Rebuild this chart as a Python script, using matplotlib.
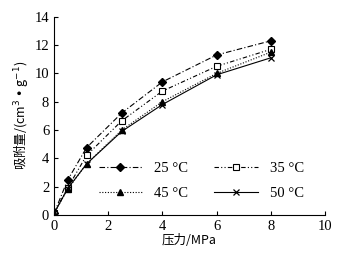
import matplotlib
matplotlib.use("Agg")
import matplotlib.pyplot as plt

# ─────────────────────────────────────────────
# Data
# ─────────────────────────────────────────────

pressure	= [0, 0.5, 1.2, 2.5, 4, 6, 8]
ads_25		= [0.1, 2.45, 4.75, 7.2, 9.4, 11.3, 12.3]
ads_35		= [0.1, 1.9, 4.2, 6.65, 8.75, 10.5, 11.7]
ads_45		= [0.1, 1.8, 3.6, 6.0, 8.0, 10.0, 11.5]
ads_50		= [0.1, 1.85, 3.6, 5.9, 7.8, 9.9, 11.1]
labels		= ["25 °C", "35 °C", "45 °C", "50 °C"]

SERIF	= ["Liberation Serif", "DejaVu Serif"]
CJK	= ["Noto Sans CJK SC", "Liberation Serif"]

fig = plt.figure(figsize=(3.44, 2.54), dpi=100)
ax = fig.add_axes([0.157, 0.154, 0.788, 0.78])

h25, = ax.plot(pressure, ads_25, color="black", lw=0.8, ls=(0, (5, 2, 1, 2)),
	marker="D", ms=4, mfc="black", label=labels[0])
h35, = ax.plot(pressure, ads_35, color="black", lw=0.8, ls=(0, (4, 2, 1, 2, 1, 2)),
	marker="s", ms=4, mfc="white", mew=0.8, label=labels[1])
h45, = ax.plot(pressure, ads_45, color="black", lw=0.8, ls=(0, (1, 1.5)),
	marker="^", ms=4, mfc="black", label=labels[2])
h50, = ax.plot(pressure, ads_50, color="black", lw=0.8, ls="-",
	marker="x", ms=4, mew=0.9, label=labels[3])

ax.set_xlim(0, 10)
ax.set_ylim(0, 14)
ax.set_xticks([0, 2, 4, 6, 8, 10])
ax.set_yticks([0, 2, 4, 6, 8, 10, 12, 14])
for s in ("top", "right"):
	ax.spines[s].set_visible(False)
ax.tick_params(direction="in", length=3, width=0.8, labelsize=10.5)
for t in ax.get_xticklabels() + ax.get_yticklabels():
	t.set_fontfamily(SERIF)

ax.set_xlabel("压力/MPa", family=CJK, fontsize=9, labelpad=1)
ax.set_ylabel("吸附量/(cm$^3$ • g$^{-1}$)", family=CJK, fontsize=9, labelpad=2)

# row-wise order: 25, 35 / 45, 50
handles = [h25, h45, h35, h50]
leg = ax.legend(handles, [h.get_label() for h in handles], ncol=2, frameon=False,
	loc="lower right", bbox_to_anchor=(0.97, 0.01),
	prop={"family": SERIF, "size": 10.5}, handlelength=3.0, columnspacing=1.8,
	labelspacing=0.8, handletextpad=0.8)

fig.savefig("out.png", dpi=100)
